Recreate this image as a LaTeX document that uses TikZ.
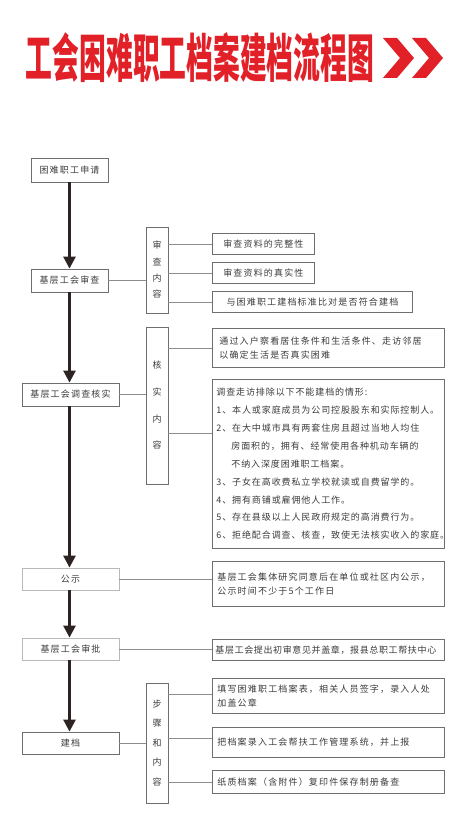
\documentclass[tikz,border=0pt]{standalone}
\usepackage{fontspec}
\setmainfont{Noto Sans CJK SC}[LetterSpace=13]
\newfontfamily\titlefont{Noto Sans CJK SC}
\usetikzlibrary{arrows.meta}
\definecolor{tred}{RGB}{226,32,40}
\definecolor{boxgray}{RGB}{110,110,110}
\definecolor{lightbox}{RGB}{185,185,185}
\definecolor{linegray}{RGB}{140,140,140}
\definecolor{txt}{RGB}{60,60,60}
\definecolor{arrowc}{RGB}{45,35,35}
\newcommand\fsz{\fontsize{9}{14.5}\selectfont}
\begin{document}
\begin{tikzpicture}[x=1pt,y=-1pt,
  mainbox/.style={draw=boxgray, line width=0.8pt, inner sep=0pt, font=\fsz, text=txt},
  pubbox/.style={mainbox, draw=lightbox},
  vbox/.style={draw=boxgray, line width=0.8pt, inner sep=0pt, minimum width=22pt, text=txt, align=center},
  infobox/.style={draw=boxgray, line width=0.8pt, anchor=north west, inner xsep=7pt, inner ysep=0pt, font=\fsz, text=txt, align=left},
  flow/.style={draw=arrowc, line width=2.6pt, -{Triangle[width=12pt,length=12pt]}},
  conn/.style={draw=linegray, line width=0.8pt}
]
\useasboundingbox (0,0) rectangle (466,818);
\fill[white] (0,0) rectangle (466,818);
% title
\node[text=tred, font=\titlefont\bfseries\fontsize{52}{52}\selectfont, xscale=0.515, inner sep=0pt, anchor=center] (title) at (200,58) {工会困难职工档案建档流程图};
\fill[tred] (383,38) -- (397,38) -- (414,58) -- (397,78) -- (383,78) -- (400,58) -- cycle;
\fill[tred] (412,38) -- (426,38) -- (443,58) -- (426,78) -- (412,78) -- (429,58) -- cycle;
% main column
\node[mainbox, minimum width=77pt, minimum height=24pt] (apply) at (69.5,170) {困难职工申请};
\node[mainbox, minimum width=77pt, minimum height=23pt] (review) at (69.5,280.5) {基层工会审查};
\node[mainbox, minimum width=97pt, minimum height=23pt] (invest) at (70.5,394.5) {基层工会调查核实};
\node[pubbox, minimum width=97pt, minimum height=22pt] (pub) at (70.5,579) {公示};
\node[pubbox, minimum width=97pt, minimum height=22pt] (approve) at (70.5,649) {基层工会审批};
\node[mainbox, minimum width=97pt, minimum height=22pt] (build) at (70.5,743) {建档};
% vertical label boxes
\node[vbox, minimum height=86pt, font=\fontsize{9}{16.3}\selectfont] (v1) at (157,270) {审\\查\\内\\容};
\node[vbox, minimum height=157pt, font=\fontsize{9}{26.7}\selectfont] (v2) at (157,405.5) {核\\实\\内\\容};
\node[vbox, minimum height=120pt, font=\fontsize{9}{19.5}\selectfont] (v3) at (157,743) {步\\骤\\和\\内\\容};
% right boxes
\node[infobox, minimum width=102pt, minimum height=21pt] (r11) at (212,233) {审查资料的完整性};
\node[infobox, minimum width=102pt, minimum height=21pt] (r12) at (212,262) {审查资料的真实性};
\node[infobox, minimum width=200pt, minimum height=21pt] (r13) at (212,291) {与困难职工建档标准比对是否符合建档};
\node[infobox, minimum width=232pt, minimum height=39pt, text width=218pt] (r21) at (212,328) {通过入户察看居住条件和生活条件、走访邻居\\以确定生活是否真实困难};
\node[infobox, minimum width=232pt, minimum height=169pt, text width=224pt, inner xsep=3.5pt, font=\fontsize{9}{17.9}\selectfont\addfontfeature{LetterSpace=10}] (r22) at (212,379) {调查走访排除以下不能建档的情形:\\1、本人或家庭成员为公司控股股东和实际控制人。\\2、在大中城市具有两套住房且超过当地人均住\\\hspace*{15pt}房面积的，拥有、经常使用各种机动车辆的\\\hspace*{15pt}不纳入深度困难职工档案。\\3、子女在高收费私立学校就读或自费留学的。\\4、拥有商铺或雇佣他人工作。\\5、存在县级以上人民政府规定的高消费行为。\\6、拒绝配合调查、核查，致使无法核实收入的家庭。};
\node[infobox, minimum width=232pt, minimum height=45pt, text width=222pt, inner xsep=5pt] (r31) at (212,561) {基层工会集体研究同意后在单位或社区内公示，\\公示时间不少于5个工作日};
\node[infobox, minimum width=232pt, minimum height=21pt, text width=226pt, inner xsep=3pt, font=\fsz\addfontfeature{LetterSpace=7}] (r41) at (212,639) {基层工会提出初审意见并盖章，报县总职工帮扶中心};
\node[infobox, minimum width=232pt, minimum height=35pt, text width=222pt, inner xsep=5pt] (r51) at (212,678) {填写困难职工档案表，相关人员签字，录入人处\\加盖公章};
\node[infobox, minimum width=232pt, minimum height=30pt, text width=222pt, inner xsep=5pt] (r52) at (212,727) {把档案录入工会帮扶工作管理系统，并上报};
\node[infobox, minimum width=232pt, minimum height=23pt, text width=222pt, inner xsep=5pt] (r53) at (212,770) {纸质档案（含附件）复印件保存制册备查};
% main flow arrows
\draw[flow] (apply.south) -- (review.north);
\draw[flow] (review.south) -- (review.south |- invest.north);
\draw[flow] (review.south |- invest.south) -- (review.south |- pub.north);
\draw[flow] (review.south |- pub.south) -- (review.south |- approve.north);
\draw[flow] (review.south |- approve.south) -- (review.south |- build.north);
% connectors
\draw[conn] (review.east) -- (review.east -| v1.west);
\draw[conn] (v1.east |- r11.west) -- (r11.west);
\draw[conn] (v1.east |- r12.west) -- (r12.west);
\draw[conn] (v1.east |- r13.west) -- (r13.west);
\draw[conn] (invest.east) -- (invest.east -| v2.west);
\draw[conn] (v2.east |- r21.west) -- (r21.west);
\draw[conn] ([yshift=-54pt]r22.north west -| v2.east) -- ([yshift=-54pt]r22.north west);
\draw[conn] (pub.east) -- (pub.east -| r31.west);
\draw[conn] (approve.east) -- (approve.east -| r41.west);
\draw[conn] (build.east) -- (build.east -| v3.west);
\draw[conn] ([yshift=1.5pt]r51.west -| v3.east) -- ([yshift=1.5pt]r51.west);
\draw[conn] ([yshift=4pt]r52.west -| v3.east) -- ([yshift=4pt]r52.west);
\draw[conn] (v3.east |- r53.west) -- (r53.west);
\end{tikzpicture}
\end{document}
